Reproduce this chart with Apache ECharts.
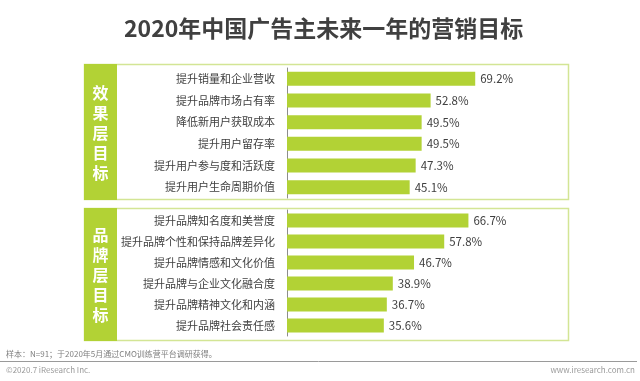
<!DOCTYPE html>
<html>
<head>
<meta charset="utf-8">
<script src="https://cdn.jsdelivr.net/npm/echarts@6/dist/echarts.min.js"></script>
<style>html,body{margin:0;padding:0;background:#fff}#c{width:640px;height:381px}</style>
</head>
<body>
<div id="c"></div>
<script>
const titleText = '2020年中国广告主未来一年的营销目标';
const groupNames = ['效果层目标', '品牌层目标'];
const effectCats = ['提升销量和企业营收', '提升品牌市场占有率', '降低新用户获取成本', '提升用户留存率', '提升用户参与度和活跃度', '提升用户生命周期价值'];
const effectValues = [69.2, 52.8, 49.5, 49.5, 47.3, 45.1];
const brandCats = ['提升品牌知名度和美誉度', '提升品牌个性和保持品牌差异化', '提升品牌情感和文化价值', '提升品牌与企业文化融合度', '提升品牌精神文化和内涵', '提升品牌社会责任感'];
const brandValues = [66.7, 57.8, 46.7, 38.9, 36.7, 35.6];
const footNote = '样本：N=91；于2020年5月通过CMO训练营平台调研获得。';
const copyright = '©2020.7 iResearch Inc.';
const website = 'www.iresearch.com.cn';

const FONT = '"Noto Sans CJK SC", "Noto Sans", sans-serif';
const GREEN = '#b2d235';
const BORDER = '#d3e595';

const chart = echarts.init(document.getElementById('c'), null, {renderer: 'canvas'});

function xAx(i) {
  return {gridIndex: i, type: 'value', min: 0, max: 100, show: false};
}
function yAx(i, cats) {
  return {
    gridIndex: i, type: 'category', data: cats, inverse: true,
    axisLine: {show: true, lineStyle: {color: '#8c8c8c', width: 1}},
    axisTick: {show: false},
    axisLabel: {color: '#404040', fontSize: 11, fontFamily: FONT, margin: 12}
  };
}
function bar(i, vals) {
  return {
    type: 'bar', xAxisIndex: i, yAxisIndex: i, data: vals, barWidth: 14,
    itemStyle: {color: GREEN},
    label: {show: true, position: 'right', distance: 5, formatter: '{c}%', color: '#404040', fontSize: 11.5, fontFamily: FONT},
    silent: true, animation: false
  };
}
function box(y1, y2, name) {
  return [
    {type: 'rect', shape: {x: 84.5, y: y1 + 0.5, width: 484, height: y2 - y1}, style: {fill: '#fff', stroke: BORDER, lineWidth: 1.5}, z: -10},
    {type: 'rect', shape: {x: 84, y: y1, width: 33, height: y2 - y1 + 1}, style: {fill: GREEN}, z: -9},
    {type: 'text', x: 100.5, y: (y1 + y2) / 2 + 1, style: {text: name.split('').join('\n'), fill: '#fff', font: 'bold 16px ' + FONT, textAlign: 'center', textVerticalAlign: 'middle', lineHeight: 20}, z: -8}
  ];
}

chart.setOption({
  animation: false,
  backgroundColor: '#fff',
  title: {
    text: titleText, left: 119, top: 12,
    textStyle: {color: '#404040', fontSize: 23, fontWeight: 'bold', fontFamily: FONT}
  },
  grid: [
    {left: 287, width: 272, top: 68, height: 130},
    {left: 287, width: 272, top: 210, height: 126}
  ],
  xAxis: [xAx(0), xAx(1)],
  yAxis: [yAx(0, effectCats), yAx(1, brandCats)],
  series: [bar(0, effectValues), bar(1, brandValues)],
  graphic: [
    ...box(64, 199, groupNames[0]),
    ...box(208, 340, groupNames[1]),
    {type: 'text', x: 6, y: 354, style: {text: footNote, fill: '#7f7f7f', font: '8px ' + FONT, textVerticalAlign: 'middle'}},
    {type: 'line', shape: {x1: 0, y1: 361.5, x2: 637, y2: 361.5}, style: {stroke: '#9a9a9a', lineWidth: 1}},
    {type: 'text', x: 6, y: 370, style: {text: copyright, fill: '#9a9a9a', font: '8px ' + FONT, textVerticalAlign: 'middle'}},
    {type: 'text', x: 635, y: 370, style: {text: website, fill: '#9a9a9a', font: '8px ' + FONT, textAlign: 'right', textVerticalAlign: 'middle'}}
  ]
});
</script>
</body>
</html>
